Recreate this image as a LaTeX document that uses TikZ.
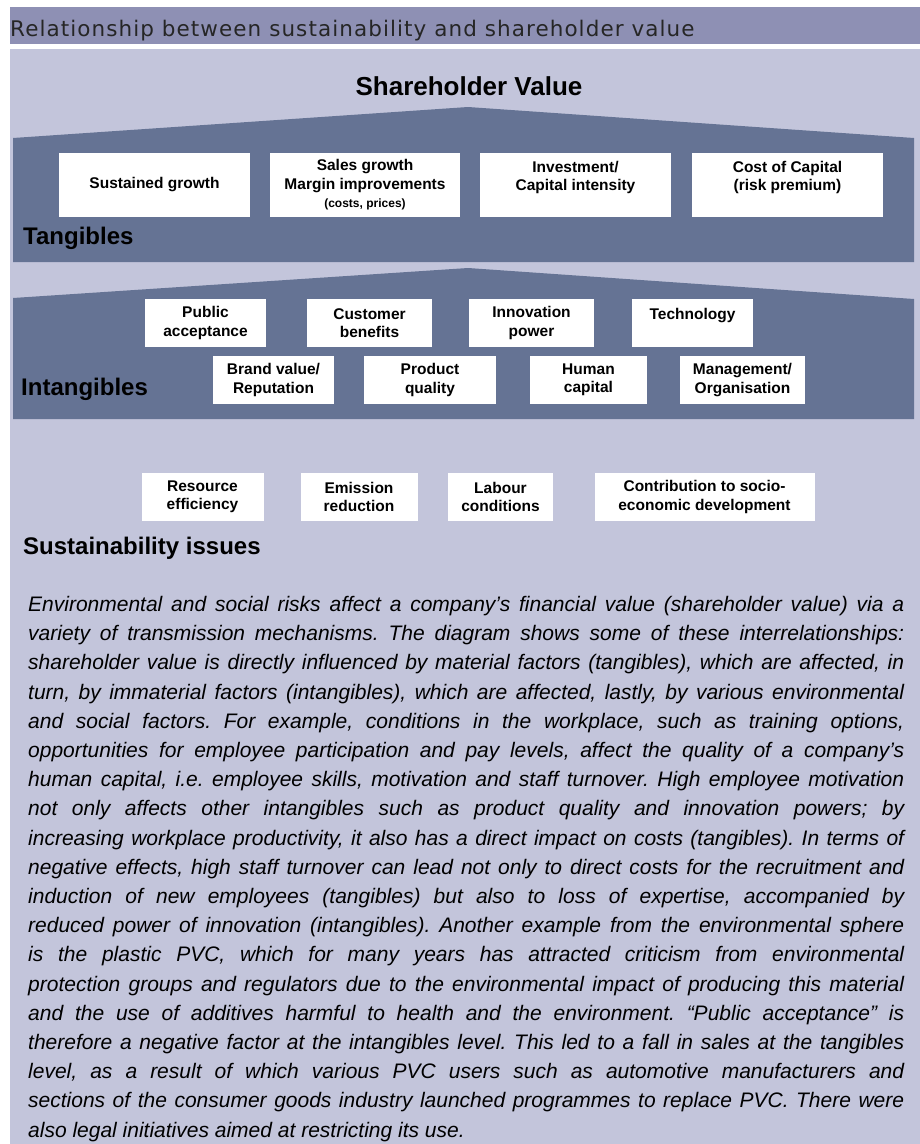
\documentclass[tikz,border=0pt]{standalone}
\usepackage{fontspec}
\setmainfont{Liberation Sans}
\newfontfamily\headfont[LetterSpace=5]{DejaVu Sans}
\usepackage{xcolor}
\usetikzlibrary{calc}
\definecolor{headbar}{HTML}{8E90B4}
\definecolor{panel}{HTML}{C3C5DB}
\definecolor{band}{HTML}{657394}
\newcommand{\jline}[1]{{\spaceskip=0pt\xspaceskip=0pt\makebox[876pt][s]{#1}}}

\begin{document}
\begin{tikzpicture}[x=1pt,y=-1pt,
    box/.style={fill=white,inner sep=0pt,align=center,
      font=\bfseries\fontsize{15.5}{18.5}\selectfont},
    level/.style={anchor=west,inner sep=0pt,
      font=\bfseries\fontsize{24}{28}\selectfont}]
  \useasboundingbox (0,0) rectangle (920,1144);
  \fill[white] (0,0) rectangle (920,1144);
  % title bar
  \fill[headbar] (10,7) rectangle (920,44);
  \node[anchor=base west,inner sep=0pt,text=black!85,
    font=\headfont\fontsize{21.5}{24}\selectfont] (title) at (10,36)
    {Relationship between sustainability and shareholder value};
  \fill[panel] (10,49) rectangle (920,1144);
  \node[font=\bfseries\fontsize{26}{30}\selectfont] (sv) at (469,86) {Shareholder Value};

  % the two roofs
  \fill[band] (13,138) -- (468,107) -- (914,138) -- (914,262) -- (13,262) -- cycle;
  \fill[band] (13,298) -- (468,268) -- (914,299) -- (914,419) -- (13,419) -- cycle;

  % tangibles
  \node[box,minimum width=191,minimum height=64] (growth) at (154.5,185) {Sustained growth};
  \node[box,minimum width=190,minimum height=64] (sales) at (365,185)
    {Sales growth\\Margin improvements\\{\fontsize{12}{14}\selectfont (costs, prices)}};
  \node[box,minimum width=191,minimum height=64] (invest) at (575.5,185)
    {Investment/\\Capital intensity\\\mbox{}};
  \node[box,minimum width=191,minimum height=64] (capital) at (787.5,185)
    {Cost of Capital\\(risk premium)\\\mbox{}};
  \node[level] (tang) at (23,238) {Tangibles};

  % intangibles
  \node[box,minimum width=121,minimum height=48] (public) at (205.5,323) {Public\\acceptance};
  \node[box,minimum width=125,minimum height=48] (customer) at (369.5,323) {Customer\\benefits};
  \node[box,minimum width=125,minimum height=48] (innov) at (531.5,323) {Innovation\\power};
  \node[box,minimum width=121,minimum height=48] (techn) at (692.5,323) {Technology\\\mbox{}};
  \node[box,minimum width=121,minimum height=48] (brand) at (273.5,380) {Brand value/\\Reputation};
  \node[box,minimum width=132,minimum height=48] (quality) at (430,380) {Product\\quality};
  \node[box,minimum width=117,minimum height=48] (human) at (588.5,380) {Human\\capital};
  \node[box,minimum width=125,minimum height=48] (manage) at (742.5,380) {Management/\\Organisation};
  \node[level] (intang) at (21,389) {Intangibles};

  % sustainability issues
  \node[box,minimum width=122,minimum height=48] (resource) at (202.5,497) {Resource\\efficiency};
  \node[box,minimum width=117,minimum height=48] (emission) at (359,497) {Emission\\reduction};
  \node[box,minimum width=105,minimum height=48] (labour) at (500.5,497) {Labour\\conditions};
  \node[box,minimum width=220,minimum height=48] (socio) at (704.5,497)
    {Contribution to socio-\\economic development};
  \node[level] (sust) at (23,548) {Sustainability issues};

  % explanation
  \node[anchor=north west,inner sep=0pt,text width=876,align=left,
    font=\itshape\frenchspacing\fontsize{21}{29.2}\selectfont] (expl) at (28,596) {%
\jline{Environmental and social risks affect a company’s financial value (shareholder value) via a}\\
\jline{variety of transmission mechanisms. The diagram shows some of these interrelationships:}\\
\jline{shareholder value is directly influenced by material factors (tangibles), which are affected, in}\\
\jline{turn, by immaterial factors (intangibles), which are affected, lastly, by various environmental}\\
\jline{and social factors. For example, conditions in the workplace, such as training options,}\\
\jline{opportunities for employee participation and pay levels, affect the quality of a company’s}\\
\jline{human capital, i.e. employee skills, motivation and staff turnover. High employee motivation}\\
\jline{not only affects other intangibles such as product quality and innovation powers; by}\\
\jline{increasing workplace productivity, it also has a direct impact on costs (tangibles). In terms of}\\
\jline{negative effects, high staff turnover can lead not only to direct costs for the recruitment and}\\
\jline{induction of new employees (tangibles) but also to loss of expertise, accompanied by}\\
\jline{reduced power of innovation (intangibles). Another example from the environmental sphere}\\
\jline{is the plastic PVC, which for many years has attracted criticism from environmental}\\
\jline{protection groups and regulators due to the environmental impact of producing this material}\\
\jline{and the use of additives harmful to health and the environment. “Public acceptance” is}\\
\jline{therefore a negative factor at the intangibles level. This led to a fall in sales at the tangibles}\\
\jline{level, as a result of which various PVC users such as automotive manufacturers and}\\
\jline{sections of the consumer goods industry launched programmes to replace PVC. There were}\\
{\spaceskip=0pt\xspaceskip=0pt also legal initiatives aimed at restricting its use.}};
\end{tikzpicture}
\end{document}
